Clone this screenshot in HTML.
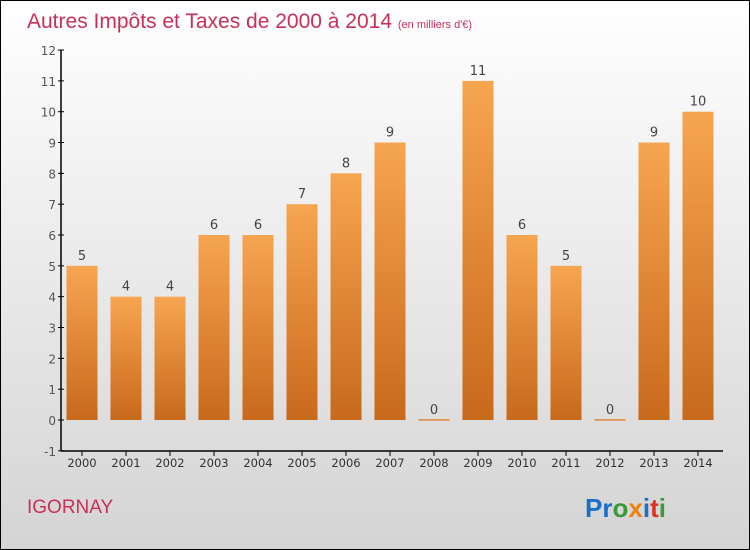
<!DOCTYPE html>
<html><head><meta charset="utf-8"><style>
body{margin:0}
#c{width:748px;height:548px;border:1px solid #000;background:linear-gradient(#fff,#d4d4d4);position:relative;font-family:"DejaVu Sans","Liberation Sans",sans-serif;overflow:hidden}
</style></head><body>
<div id="c">
<svg id="s" width="748" height="548" style="position:absolute;left:0;top:0">
<text x="26" y="27" font-size="21" fill="#c8305a" font-family="Liberation Sans, sans-serif">Autres Impôts et Taxes de 2000 à 2014 <tspan font-size="11">(en milliers d'€)</tspan></text>
<text x="26" y="512" font-size="19" fill="#c8305a" font-family="Liberation Sans, sans-serif">IGORNAY</text>
<text x="584" y="516" font-size="26" font-weight="bold" font-family="Liberation Sans, sans-serif"><tspan fill="#1a6fc8">Pr</tspan><tspan fill="#3a9a3a">o</tspan><tspan fill="#f08010">x</tspan><tspan fill="#1a6fc8">i</tspan><tspan fill="#e03020">t</tspan><tspan fill="#3a9a3a">i</tspan></text>
<defs><linearGradient id="g" x1="0" y1="0" x2="0" y2="1"><stop offset="0" stop-color="#f7a550"/><stop offset="1" stop-color="#c8691c"/></linearGradient></defs>
<g id="plot"></g>
</svg>
</div>
<script>
const years=["2000","2001","2002","2003","2004","2005","2006","2007","2008","2009","2010","2011","2012","2013","2014"];
const values=[5,4,4,6,6,7,8,9,0,11,6,5,0,9,10];
const yTicks=[-1,0,1,2,3,4,5,6,7,8,9,10,11,12];
const NS="http://www.w3.org/2000/svg",g=document.getElementById('plot');
const y=v=>419-(v)*30.83, x=i=>81+i*44;
function el(t,a){const e=document.createElementNS(NS,t);for(const k in a)e.setAttribute(k,a[k]);g.appendChild(e);return e;}
yTicks.forEach(t=>{
 const l=el('line',{x1:57,x2:63,y1:y(t),y2:y(t),stroke:'#000'});
 
 
 const tx=el('text',{x:55,y:y(t)+5,'text-anchor':'end','font-size':12,fill:'#555'});tx.textContent=t;
 
 
});
values.forEach((v,i)=>{
 const h=Math.max(v*30.83,1.5);
 const r=el('rect',{x:x(i)-15.5,y:y(v)-(v?0:1),width:31,height:v?h:1.5,fill:'url(#g)'});
 
 
 const lb=el('text',{x:x(i),y:y(v)-6,'text-anchor':'middle','font-size':13,fill:'#444'});lb.textContent=v;
 
 
 const tk=el('line',{x1:x(i),x2:x(i),y1:450,y2:455,stroke:'#000'});
 
 
 const xl=el('text',{x:x(i),y:466,'text-anchor':'middle','font-size':11.5,fill:'#333'});xl.textContent=years[i];
 
 
});
const ya=el('line',{x1:60,x2:60,y1:y(12),y2:450,stroke:'#000','stroke-width':1.5});


const xa=el('line',{x1:60,x2:722,y1:450,y2:450,stroke:'#000','stroke-width':1.5});


</script>
</body></html>
